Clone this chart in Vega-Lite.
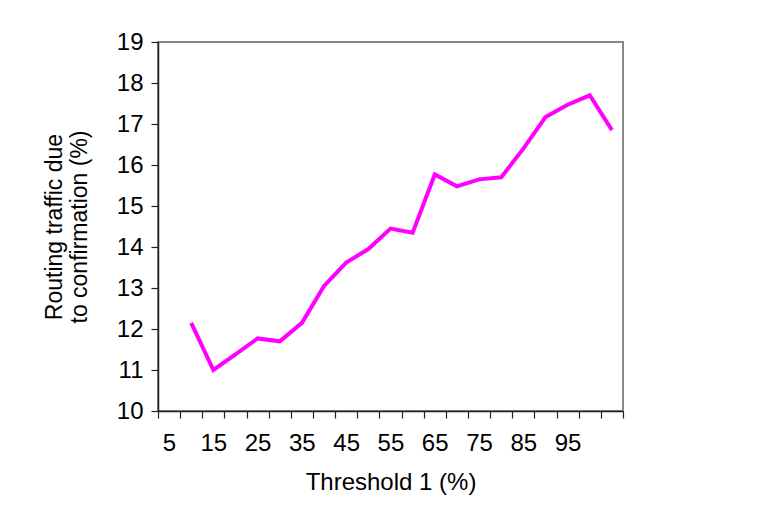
{
  "$schema": "https://vega.github.io/schema/vega-lite/v6.json",
  "autosize": "none",
  "width": 465,
  "height": 369,
  "padding": {"left": 158, "top": 42, "right": 156, "bottom": 113},
  "background": "white",
  "config": {
    "font": "Liberation Sans",
    "view": {"stroke": "#888888", "strokeWidth": 2}
  },
  "data": {
    "values": [
      {"threshold": 10, "traffic": 12.15},
      {"threshold": 15, "traffic": 11.0},
      {"threshold": 20, "traffic": 11.38},
      {"threshold": 25, "traffic": 11.77},
      {"threshold": 30, "traffic": 11.7},
      {"threshold": 35, "traffic": 12.15},
      {"threshold": 40, "traffic": 13.05},
      {"threshold": 45, "traffic": 13.62},
      {"threshold": 50, "traffic": 13.95},
      {"threshold": 55, "traffic": 14.45},
      {"threshold": 60, "traffic": 14.35},
      {"threshold": 65, "traffic": 15.77},
      {"threshold": 70, "traffic": 15.48},
      {"threshold": 75, "traffic": 15.65},
      {"threshold": 80, "traffic": 15.7},
      {"threshold": 85, "traffic": 16.4},
      {"threshold": 90, "traffic": 17.17},
      {"threshold": 95, "traffic": 17.47},
      {"threshold": 100, "traffic": 17.7},
      {"threshold": 105, "traffic": 16.85}
    ]
  },
  "mark": {"type": "line", "color": "#FF00FF", "strokeWidth": 4, "strokeJoin": "miter"},
  "encoding": {
    "x": {
      "field": "threshold",
      "type": "quantitative",
      "scale": {"domain": [2.5, 107.5], "nice": false, "zero": false},
      "axis": {
        "title": "Threshold 1 (%)",
        "titleFont": "Liberation Sans",
        "titleFontSize": 24,
        "titleFontWeight": "normal",
        "titleColor": "black",
        "titlePadding": 15,
        "grid": false,
        "domainColor": "#222222",
        "domainWidth": 1.5,
        "tickColor": "#222222",
        "tickWidth": 1.2,
        "tickSize": 7,
        "labelFont": "Liberation Sans",
        "labelFontSize": 24,
        "labelColor": "black",
        "values": [2.5, 7.5, 12.5, 17.5, 22.5, 27.5, 32.5, 37.5, 42.5, 47.5, 52.5, 57.5, 62.5, 67.5, 72.5, 77.5, 82.5, 87.5, 92.5, 97.5, 102.5, 107.5],
        "labelExpr": "(datum.value % 10 == 2.5 && datum.value < 100) ? format(datum.value + 2.5, 'd') : ''",
        "labelOffset": 11,
        "labelPadding": 13,
        "labelFlush": false,
        "labelOverlap": false
      }
    },
    "y": {
      "field": "traffic",
      "type": "quantitative",
      "scale": {"domain": [10, 19], "nice": false, "zero": false},
      "axis": {
        "title": ["Routing traffic due", "to confirmation (%)"],
        "titleFont": "Liberation Sans",
        "titleFontSize": 23,
        "titleFontWeight": "normal",
        "titleColor": "black",
        "titleLineHeight": 25,
        "titlePadding": 25,
        "grid": false,
        "domainColor": "#222222",
        "domainWidth": 1.5,
        "tickColor": "#222222",
        "tickWidth": 1.2,
        "tickSize": 7,
        "labelFont": "Liberation Sans",
        "labelFontSize": 24,
        "labelColor": "black",
        "values": [10, 11, 12, 13, 14, 15, 16, 17, 18, 19],
        "labelPadding": 8
      }
    }
  }
}
